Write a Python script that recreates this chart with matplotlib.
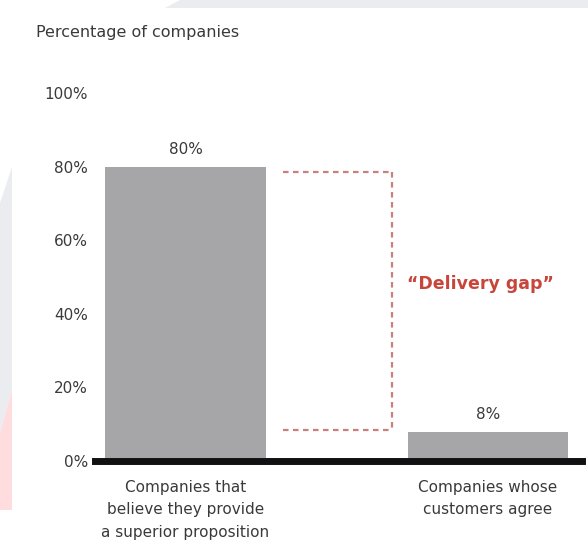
import matplotlib
matplotlib.use("Agg")
import matplotlib.pyplot as plt
from matplotlib.patches import Polygon

plt.rcParams['font.family'] = ['DejaVu Sans']

# Data
categories = ["Companies that\nbelieve they provide\na superior proposition",
              "Companies whose\ncustomers agree"]
values = [80, 8]
value_labels = ["80%", "8%"]
y_ticks = [0, 20, 40, 60, 80, 100]
y_tick_labels = ["0%", "20%", "40%", "60%", "80%", "100%"]
axis_title = "Percentage of companies"
gap_label = "\u201cDelivery gap\u201d"

W, H = 588, 544
fig = plt.figure(figsize=(W / 100, H / 100), dpi=100)
fig.patch.set_facecolor("white")

def fx(px):
    return px / W

def fy(py):
    return 1 - py / H

# faint background shapes
fig.patches.append(Polygon([(fx(165), fy(8)), (fx(180), fy(0)), (fx(588), fy(0)), (fx(588), fy(8))],
                           closed=True, transform=fig.transFigure, facecolor="#ebecef",
                           edgecolor="none", zorder=0))
fig.patches.append(Polygon([(fx(0), fy(203)), (fx(12), fy(167)), (fx(12), fy(390)), (fx(0), fy(433))],
                           closed=True, transform=fig.transFigure, facecolor="#ebecef",
                           edgecolor="none", zorder=0))
fig.patches.append(Polygon([(fx(0), fy(433)), (fx(12), fy(390)), (fx(12), fy(510)), (fx(0), fy(510))],
                           closed=True, transform=fig.transFigure, facecolor="#ffdcdd",
                           edgecolor="none", zorder=0))

# axes placed so that 0% sits on the baseline and 100% near the top
left_px, right_px, top_px, bottom_px = 95, 582, 93, 461
ax = fig.add_axes([fx(left_px), fy(bottom_px), fx(right_px - left_px), (bottom_px - top_px) / H])
ax.set_facecolor("none")

x = [0, 1]
x0_px, x1_px = 185.5, 488
scale = x1_px - x0_px
ax.set_xlim((left_px - x0_px) / scale, (right_px - x0_px) / scale)
ax.set_ylim(0, 100)

bar_width = 0.53
ax.bar(x, values, width=bar_width, color="#a6a6a8", zorder=2)

text_color = "#3a3a3a"

# value labels
for xi, v, lab in zip(x, values, value_labels):
    ax.annotate(lab, (xi, v), xytext=(0, 7), textcoords="offset points",
                ha="center", va="bottom", fontsize=11, color=text_color)

# baseline
ax.axhline(0, color="#111111", lw=5, zorder=3, clip_on=False)

# delivery gap bracket
gx0, gx1 = 0.322, 0.683
dash_kw = dict(color="#c9807b", lw=1.6, linestyle=(0, (2.5, 2)), zorder=2)
ax.plot([gx0, gx1], [values[0] - 1.5, values[0] - 1.5], **dash_kw)
ax.plot([gx1, gx1], [values[0] - 1.5, values[1] + 0.5], **dash_kw)
ax.plot([gx0, gx1], [values[1] + 0.5, values[1] + 0.5], **dash_kw)
ax.text(gx1 + 0.05, 48, gap_label, ha="left", va="center",
        fontsize=12.5, fontweight="bold", color="#c8453b")

# axes styling
for s in ax.spines.values():
    s.set_visible(False)
ax.set_yticks(y_ticks)
ax.set_yticklabels(y_tick_labels, fontsize=11, color=text_color)
ax.tick_params(axis="y", length=0, pad=5)
ax.set_xticks(x)
ax.set_xticklabels(categories, fontsize=11, color=text_color, linespacing=1.62)
ax.tick_params(axis="x", length=0, pad=13.5)

fig.text(fx(36), fy(33), axis_title, ha="left", va="center", fontsize=11.5, color=text_color)

fig.savefig("out.png", dpi=100)
